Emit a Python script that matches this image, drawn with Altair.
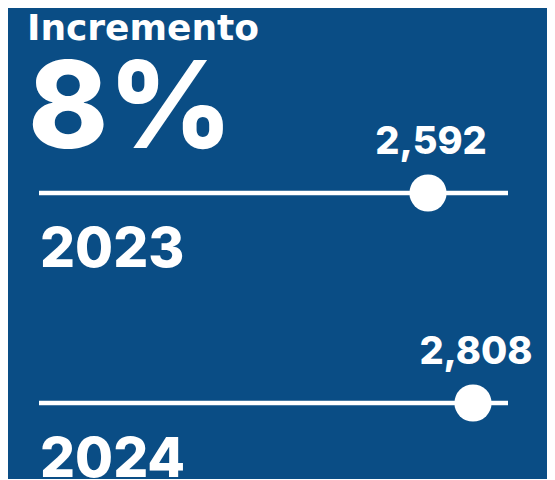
import altair as alt
import pandas as pd

# ---- data ----
years = [2023, 2024]
values = [2592, 2808]
value_labels = ["2,592", "2,808"]
year_labels = ["2023", "2024"]
track_start = [725, 725]
track_end = [2976, 2976]
headline = ["Incremento"]
increase = ["8%"]

BG = "#0a4d85"
FONT = "Inter"
W, H = 539, 471

df = pd.DataFrame({
    "year": years,
    "value": values,
    "label": value_labels,
    "ylabel": year_labels,
    "start": track_start,
    "end": track_end,
})

xs = alt.Scale(domain=[725, 2976], range=[31, 500])
ys = alt.Scale(domain=[2023, 2024], range=[185, 395])

base = alt.Chart(df)

track = base.mark_rule(color="white", strokeWidth=4.5).encode(
    x=alt.X("start:Q", scale=xs, axis=None),
    x2="end:Q",
    y=alt.Y("year:Q", scale=ys, axis=None),
)

dots = base.mark_circle(color="white", opacity=1, size=1385).encode(
    x=alt.X("value:Q", scale=xs, axis=None),
    y=alt.Y("year:Q", scale=ys, axis=None),
)

vals = base.mark_text(
    color="white", font=FONT, fontSize=38, fontWeight=800,
    baseline="alphabetic", align="center", dx=3, dy=-39,
).encode(
    x=alt.X("value:Q", scale=xs, axis=None),
    y=alt.Y("year:Q", scale=ys, axis=None),
    text="label:N",
)

ylabs = base.mark_text(
    color="white", font=FONT, fontSize=55, fontWeight=800,
    baseline="alphabetic", align="left", dx=1, dy=74,
).encode(
    x=alt.X("start:Q", scale=xs, axis=None),
    y=alt.Y("year:Q", scale=ys, axis=None),
    text="ylabel:N",
)

head = alt.Chart(pd.DataFrame({"t": headline})).mark_text(
    color="white", font="DejaVu Sans", fontSize=36, fontWeight="bold",
    baseline="alphabetic", align="left",
).encode(x=alt.value(19), y=alt.value(32), text="t:N")

big = alt.Chart(pd.DataFrame({"t": increase})).mark_text(
    color="white", font=FONT, fontSize=121, fontWeight=800,
    baseline="alphabetic", align="left",
).encode(x=alt.value(20), y=alt.value(140), text="t:N")

chart = alt.layer(track, dots, vals, ylabs, head, big).properties(
    width=W, height=H, background=BG, padding=0, autosize="none",
).configure_view(stroke=None, fill=BG)

chart.save("out.html", embed_options={"renderer": "svg", "actions": False})
